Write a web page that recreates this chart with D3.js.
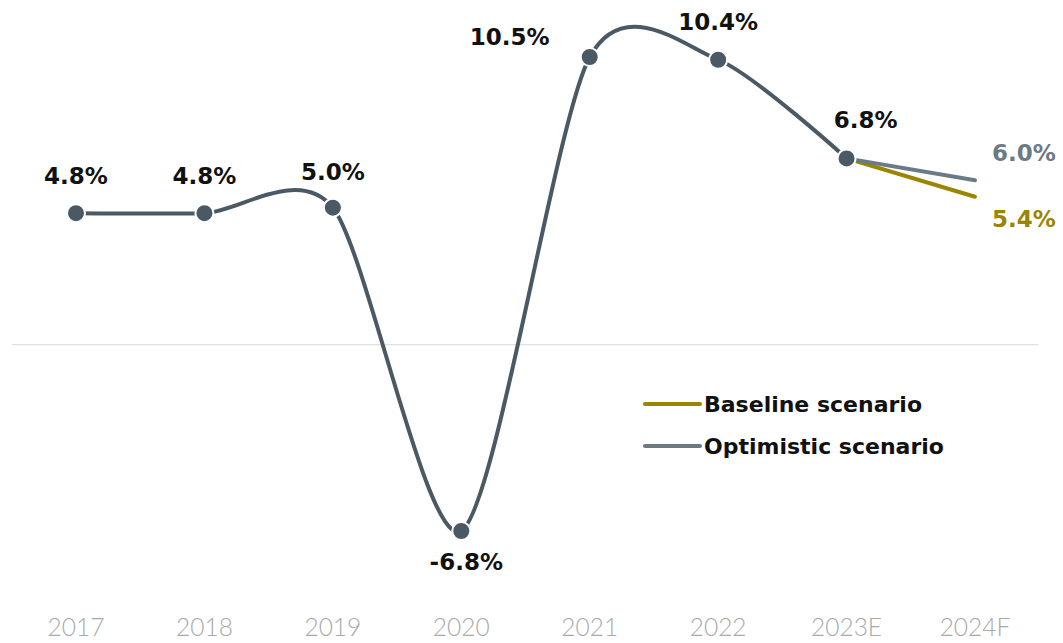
<!DOCTYPE html>
<html><head><meta charset="utf-8">
<script src="https://cdn.jsdelivr.net/npm/d3@7"></script>
<style>body{margin:0;background:#fff}svg{display:block}</style>
</head><body><svg id="c" width="1063" height="643"></svg>
<script>
const categories = ["2017","2018","2019","2020","2021","2022","2023E","2024F"];
const historical = [4.8, 4.8, 5.0, -6.8, 10.5, 10.4, 6.8];
const baseline = [6.8, 5.4];      // 2023E -> 2024F
const optimistic = [6.8, 6.0];    // 2023E -> 2024F
const histLabels = ["4.8%","4.8%","5.0%","-6.8%","10.5%","10.4%","6.8%"];
const legendItems = ["Baseline scenario","Optimistic scenario"];

const svg = d3.select("#c");
const boldFont = "'DejaVu Sans', sans-serif";
const lightFont = "Lato, sans-serif";
const x = d3.scalePoint().domain(categories).range([76, 975]);
const y = d3.scaleLinear().domain([-6.8, 10.5]).range([531, 57]);
const cMain = "#4b5965", cBase = "#9a8500", cOpt = "#6b7b86";

svg.append("line").attr("x1",12).attr("x2",1038).attr("y1",y(0)).attr("y2",y(0))
  .attr("stroke","#d9d9d9").attr("stroke-width",1);

// x axis labels
svg.append("g").selectAll("text").data(categories).join("text")
  .attr("x", d=>x(d)).attr("y", 636).attr("text-anchor","middle")
  .attr("font-family", lightFont).attr("font-weight",300).attr("font-size",24.5)
  .attr("fill","#a9a9a9").text(d=>d);

const line = d3.line().x(d=>x(d.c)).y(d=>y(d.v)).curve(d3.curveCardinal.tension(0.2));
const hist = historical.map((v,i)=>({c:categories[i], v}));
const base = baseline.map((v,i)=>({c:categories[6+i], v}));
const opt = optimistic.map((v,i)=>({c:categories[6+i], v}));

svg.append("path").datum(base).attr("d", d3.line().x(d=>x(d.c)).y(d=>y(d.v)))
  .attr("fill","none").attr("stroke",cBase).attr("stroke-width",4).attr("stroke-linecap","round");
svg.append("path").datum(opt).attr("d", d3.line().x(d=>x(d.c)).y(d=>y(d.v)))
  .attr("fill","none").attr("stroke",cOpt).attr("stroke-width",4).attr("stroke-linecap","round");
svg.append("path").datum(hist).attr("d", line)
  .attr("fill","none").attr("stroke",cMain).attr("stroke-width",4);

svg.append("g").selectAll("circle").data(hist).join("circle")
  .attr("cx", d=>x(d.c)).attr("cy", d=>y(d.v)).attr("r", 9)
  .attr("fill", cMain).attr("stroke","#fff").attr("stroke-width",2);

// data labels
const offs = [[0,-29],[0,-29],[0,-28],[5,39],[-80,-12],[0,-30],[19,-30]];
svg.append("g").selectAll("text").data(hist).join("text")
  .attr("x",(d,i)=>x(d.c)+offs[i][0]).attr("y",(d,i)=>y(d.v)+offs[i][1])
  .attr("text-anchor","middle").attr("font-family",boldFont).attr("font-weight",700)
  .attr("font-size",23).attr("fill","#111").text((d,i)=>histLabels[i]);

svg.append("text").attr("x",1024).attr("y",y(optimistic[1])-19).attr("text-anchor","middle")
  .attr("font-family",boldFont).attr("font-weight",700).attr("font-size",23).attr("fill",cOpt)
  .text(optimistic[1].toFixed(1)+"%");
svg.append("text").attr("x",1024).attr("y",y(baseline[1])+30).attr("text-anchor","middle")
  .attr("font-family",boldFont).attr("font-weight",700).attr("font-size",23).attr("fill",cBase)
  .text(baseline[1].toFixed(1)+"%");

// legend
const lg = svg.append("g").selectAll("g").data(legendItems).join("g")
  .attr("transform",(d,i)=>`translate(645,${404+i*42})`);
lg.append("line").attr("x1",0).attr("x2",55).attr("y1",0).attr("y2",0)
  .attr("stroke",(d,i)=>i?cOpt:cBase).attr("stroke-width",4).attr("stroke-linecap","round");
lg.append("text").attr("x",59).attr("y",8).attr("font-family",boldFont).attr("font-weight",700)
  .attr("font-size",22).attr("fill","#111").text(d=>d);
</script></body></html>
